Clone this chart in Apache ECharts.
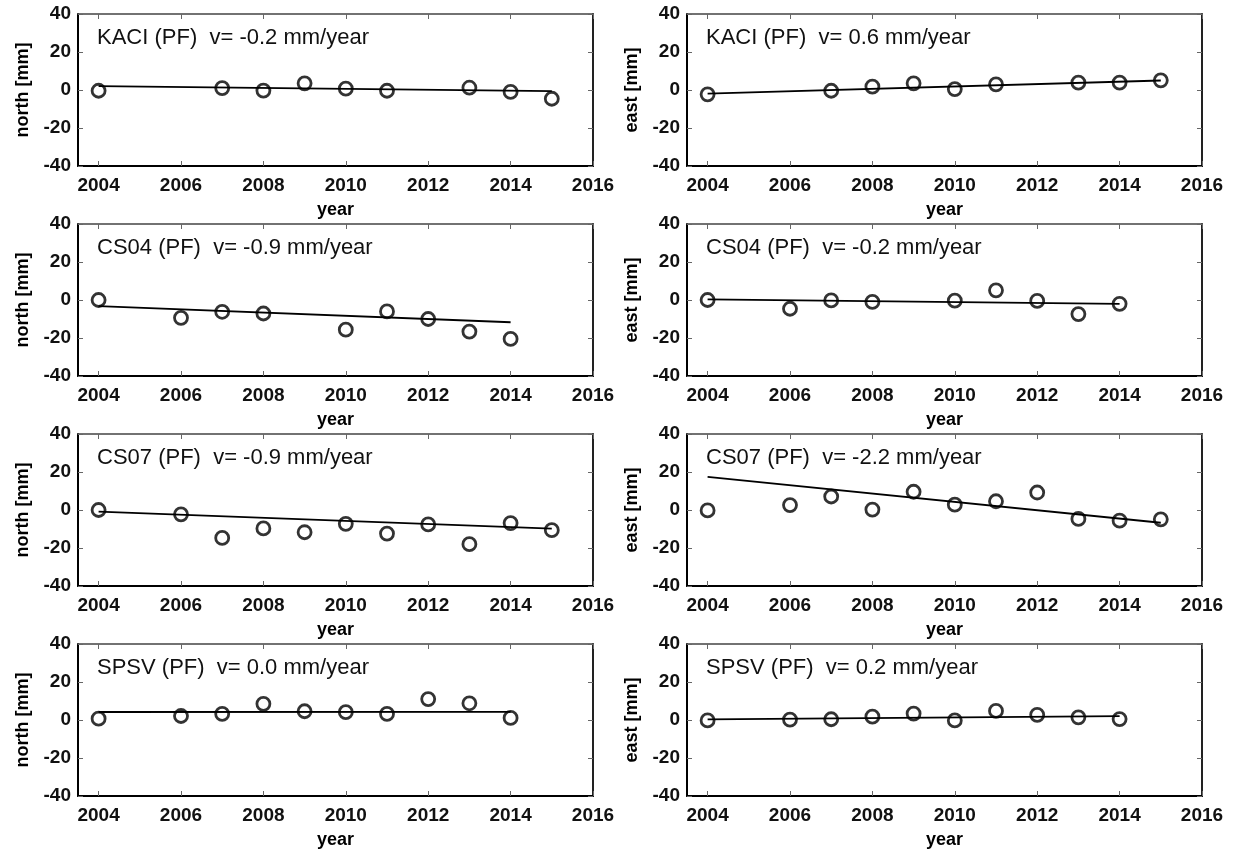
<!DOCTYPE html>
<html>
<head>
<meta charset="utf-8">
<script src="https://cdn.jsdelivr.net/npm/echarts@6/dist/echarts.min.js"></script>
<style>
html,body{margin:0;padding:0;background:#fff;}
#c{width:1238px;height:850px;}
</style>
</head>
<body>
<div id="c"></div>
<script>
// ---- data ----
const stations = ['KACI', 'CS04', 'CS07', 'SPSV'];
const velNorth = ['-0.2', '-0.9', '-0.9', '0.0'];
const velEast = ['0.6', '-0.2', '-2.2', '0.2'];

const kaciYears = [2004, 2007, 2008, 2009, 2010, 2011, 2013, 2014, 2015];
const kaciNorth = [-0.4, 1.0, -0.3, 3.5, 0.7, -0.4, 1.2, -1.0, -4.6];
const kaciEast = [-2.3, -0.4, 1.8, 3.5, 0.5, 3.0, 3.9, 3.9, 5.1];

const cs04Years = [2004, 2006, 2007, 2008, 2010, 2011, 2012, 2013, 2014];
const cs04North = [0.0, -9.4, -6.2, -7.1, -15.6, -6.0, -10.0, -16.6, -20.5];
const cs04East = [0.0, -4.6, -0.2, -1.0, -0.3, 5.1, -0.5, -7.4, -2.0];

const cs07Years = [2004, 2006, 2007, 2008, 2009, 2010, 2011, 2012, 2013, 2014, 2015];
const cs07North = [0.0, -2.3, -14.7, -9.7, -11.7, -7.3, -12.4, -7.6, -18.0, -6.9, -10.6];
const cs07East = [-0.2, 2.6, 7.1, 0.2, 9.6, 2.8, 4.6, 9.2, -4.7, -5.6, -4.9];

const spsvYears = [2004, 2006, 2007, 2008, 2009, 2010, 2011, 2012, 2013, 2014];
const spsvNorth = [0.7, 2.1, 3.2, 8.5, 4.6, 4.1, 3.2, 11.0, 8.8, 1.1];
const spsvEast = [-0.2, 0.2, 0.4, 1.8, 3.4, -0.2, 4.8, 2.7, 1.4, 0.5];

// trend line end points: [startYear, endYear], [startValue, endValue]
const kaciTrendYears = [2004, 2015];
const kaciNorthTrend = [2.0, -0.6];
const kaciEastTrend = [-1.9, 5.0];
const cs04TrendYears = [2004, 2014];
const cs04NorthTrend = [-3.2, -11.7];
const cs04EastTrend = [0.3, -2.0];
const cs07TrendYears = [2004, 2015];
const cs07NorthTrend = [-0.9, -9.8];
const cs07EastTrend = [17.4, -6.7];
const spsvTrendYears = [2004, 2014];
const spsvNorthTrend = [4.2, 4.3];
const spsvEastTrend = [0.3, 2.0];

const xTicks = [2004, 2006, 2008, 2010, 2012, 2014, 2016];
const yTicks = [-40, -20, 0, 20, 40];

// ---- assemble panels (row-major: north left, east right) ----
const panels = [
  {st: 0, comp: 'north', years: kaciYears, vals: kaciNorth, ty: kaciTrendYears, tv: kaciNorthTrend, v: velNorth[0]},
  {st: 0, comp: 'east', years: kaciYears, vals: kaciEast, ty: kaciTrendYears, tv: kaciEastTrend, v: velEast[0]},
  {st: 1, comp: 'north', years: cs04Years, vals: cs04North, ty: cs04TrendYears, tv: cs04NorthTrend, v: velNorth[1]},
  {st: 1, comp: 'east', years: cs04Years, vals: cs04East, ty: cs04TrendYears, tv: cs04EastTrend, v: velEast[1]},
  {st: 2, comp: 'north', years: cs07Years, vals: cs07North, ty: cs07TrendYears, tv: cs07NorthTrend, v: velNorth[2]},
  {st: 2, comp: 'east', years: cs07Years, vals: cs07East, ty: cs07TrendYears, tv: cs07EastTrend, v: velEast[2]},
  {st: 3, comp: 'north', years: spsvYears, vals: spsvNorth, ty: spsvTrendYears, tv: spsvNorthTrend, v: velNorth[3]},
  {st: 3, comp: 'east', years: spsvYears, vals: spsvEast, ty: spsvTrendYears, tv: spsvEastTrend, v: velEast[3]}
];

const FONT = '"Liberation Sans", Arial, sans-serif';
const colLeft = [78, 687];
const gridW = 515;
const rowTop = [14, 224, 434, 644];
const gridH = 152;
const XMIN = 2003.5, XMAX = 2016;

const grids = [], xAxes = [], yAxes = [], series = [], titles = [];
const tickStyle = {show: true, inside: true, length: 5, lineStyle: {color: '#666', width: 1}};

panels.forEach((p, i) => {
  const row = Math.floor(i / 2), col = i % 2;
  const left = colLeft[col], top = rowTop[row];
  grids.push({left: left, top: top, width: gridW, height: gridH, containLabel: false});

  // bottom x
  xAxes.push({
    type: 'value', gridIndex: i, position: 'bottom', min: XMIN, max: XMAX,
    name: 'year', nameLocation: 'middle', nameGap: 35,
    nameTextStyle: {fontFamily: FONT, fontWeight: 'bold', fontSize: 18, color: '#000'},
    axisLine: {show: true, onZero: false, lineStyle: {color: '#000', width: 2}},
    axisTick: Object.assign({customValues: xTicks}, tickStyle),
    axisLabel: {customValues: xTicks, formatter: v => String(v), fontFamily: FONT, fontWeight: 'bold',
      fontSize: 19, color: '#111', margin: 10},
    splitLine: {show: false}
  });
  // top x (mirror)
  xAxes.push({
    type: 'value', gridIndex: i, position: 'top', min: XMIN, max: XMAX,
    axisLine: {show: true, onZero: false, lineStyle: {color: '#444', width: 1.5}},
    axisTick: Object.assign({customValues: xTicks}, tickStyle),
    axisLabel: {show: false}, splitLine: {show: false}
  });
  // left y
  yAxes.push({
    type: 'value', gridIndex: i, position: 'left', min: -40, max: 40, interval: 20,
    name: p.comp + ' [mm]', nameLocation: 'middle', nameGap: 46, nameRotate: 90,
    nameTextStyle: {fontFamily: FONT, fontWeight: 'bold', fontSize: 18, color: '#000'},
    axisLine: {show: true, onZero: false, lineStyle: {color: '#000', width: 2}},
    axisTick: Object.assign({customValues: yTicks}, tickStyle),
    axisLabel: {customValues: yTicks, fontFamily: FONT, fontWeight: 'bold', fontSize: 19, color: '#111', margin: 7},
    splitLine: {show: false}
  });
  // right y (mirror)
  yAxes.push({
    type: 'value', gridIndex: i, position: 'right', min: -40, max: 40, interval: 20,
    axisLine: {show: true, onZero: false, lineStyle: {color: '#222', width: 2}},
    axisTick: Object.assign({customValues: yTicks}, tickStyle),
    axisLabel: {show: false}, splitLine: {show: false}
  });

  series.push({
    type: 'line', xAxisIndex: 2 * i, yAxisIndex: 2 * i, showSymbol: false, symbol: 'none',
    data: p.ty.map((y, k) => [y, p.tv[k]]),
    lineStyle: {color: '#000', width: 1.8}, silent: true, z: 2, animation: false
  });
  series.push({
    type: 'scatter', xAxisIndex: 2 * i, yAxisIndex: 2 * i, symbol: 'circle', symbolSize: 13,
    data: p.years.map((y, k) => [y, p.vals[k]]),
    itemStyle: {color: 'rgba(255,255,255,0)', borderColor: '#000', borderWidth: 2.8},
    z: 3, animation: false
  });

  titles.push({
    text: stations[p.st] + ' (PF)  v= ' + p.v + ' mm/year',
    left: left + 19, top: top + 13, padding: 0,
    textStyle: {fontFamily: FONT, fontWeight: 'normal', fontSize: 22, color: '#111'}
  });
});

const chart = echarts.init(document.getElementById('c'), null, {renderer: 'canvas'});
chart.setOption({
  backgroundColor: '#fff',
  animation: false,
  title: titles,
  grid: grids,
  xAxis: xAxes,
  yAxis: yAxes,
  series: series
});
</script>
</body>
</html>
